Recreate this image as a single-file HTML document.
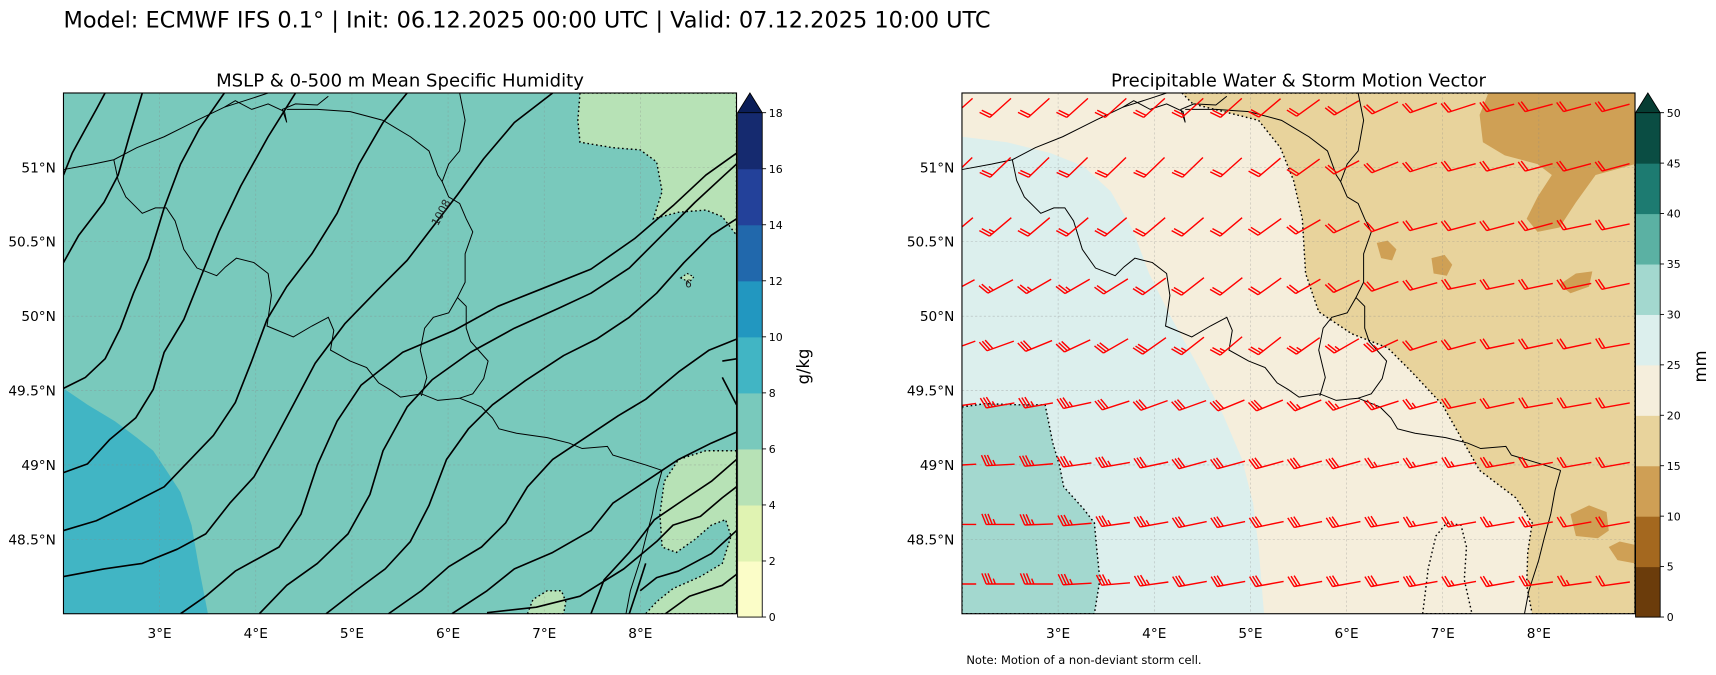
<!DOCTYPE html>
<html><head><meta charset="utf-8"><style>
html,body{margin:0;padding:0;background:#fff;}
svg{display:block;font-family:"DejaVu Sans","Liberation Sans",sans-serif;}
</style></head>
<body>
<svg id="fig" xmlns="http://www.w3.org/2000/svg" width="1716" height="675" viewBox="0 0 1568 617" preserveAspectRatio="none">
<defs>
<clipPath id="clipL"><rect x="58" y="85" width="615" height="476"/></clipPath>
<clipPath id="clipR"><rect x="879" y="85" width="615" height="476"/></clipPath>
</defs>
<text x="58" y="25" font-size="20.5" fill="#000">Model: ECMWF IFS 0.1° | Init: 06.12.2025 00:00 UTC | Valid: 07.12.2025 10:00 UTC</text>
<text x="365.5" y="79" font-size="16.5" text-anchor="middle">MSLP &amp; 0-500 m Mean Specific Humidity</text>
<text x="1186.5" y="79" font-size="16.5" text-anchor="middle">Precipitable Water &amp; Storm Motion Vector</text>

<g id="left-map" clip-path="url(#clipL)">
 <rect x="58" y="85" width="615" height="476" fill="#79c9bc"/>
 <path fill="#41b5c4" d="M58,355 L80,370 L105,385 L125,400 L140,412 L152,430 L165,450 L175,480 L182,520 L190,561 L58,561 Z"/>
 <path fill="#b7e2b6" stroke="#000" stroke-width="1.3" stroke-dasharray="1.5,2.5" d="M530,85 L528,110 L530,130 L560,135 L585,137 L600,148 L605,175 L597,200 L620,194 L645,192 L660,198 L673,215 L673,85 Z"/>
 <path fill="#b7e2b6" stroke="#000" stroke-width="1.3" stroke-dasharray="1.5,2.5" d="M673,412 L645,412 L620,420 L607,440 L603,470 L605,500 L618,505 L635,493 L650,480 L663,475 L668,490 L660,515 L640,527 L615,538 L600,550 L590,561 L673,561 Z"/>
 <path fill="#b7e2b6" stroke="#000" stroke-width="1.3" stroke-dasharray="1.5,2.5" d="M482,561 L487,548 L500,540 L513,540 L517,550 L515,561 Z"/>
 <path fill="#b7e2b6" stroke="#000" stroke-width="1" stroke-dasharray="1.5,2" d="M622,254 L628,250 L634,253 L630,258 Z"/>
</g>

<g id="right-map" clip-path="url(#clipR)">
 <rect x="879" y="85" width="615" height="476" fill="#f5eedc"/>
 <path fill="#dcefed" d="M879,125 L920,130 L960,140 L990,152 L1015,175 L1035,210 L1050,250 L1070,290 L1095,335 L1118,380 L1135,420 L1145,460 L1150,500 L1155,561 L879,561 Z"/>
 <path fill="#a3d8cf" stroke="#000" stroke-width="1.3" stroke-dasharray="1.5,2.5" d="M879,372 L900,369 L930,370 L955,370 L958,385 L962,405 L968,425 L972,445 L990,465 L1000,478 L1002,500 L1005,530 L1000,561 L879,561 Z"/>
 <path fill="#e8d39c" stroke="#000" stroke-width="1.3" stroke-dasharray="1.5,2.5" d="M1080,85 L1090,95 L1110,100 L1150,110 L1170,135 L1182,165 L1190,200 L1193,250 L1205,285 L1235,305 L1268,318 L1290,340 L1318,370 L1335,400 L1352,430 L1385,455 L1400,478 L1396,505 L1395,535 L1400,561 L1494,561 L1494,85 Z"/>
 <path fill="#f5eedc" stroke="#000" stroke-width="1.3" stroke-dasharray="1.5,2.5" d="M1300,561 L1305,520 L1312,490 L1322,478 L1335,480 L1340,500 L1338,530 L1345,561 Z"/>
 <path fill="#cfa055" d="M1360,85 L1352,105 L1355,130 L1375,142 L1405,150 L1418,160 L1405,180 L1395,200 L1405,212 L1425,208 L1440,185 L1458,160 L1494,150 L1494,85 Z"/>
 <path fill="#cfa055" d="M1258,222 L1268,220 L1276,228 L1272,238 L1262,236 Z"/>
 <path fill="#cfa055" d="M1308,236 L1320,233 L1327,242 L1322,252 L1310,250 Z"/>
 <path fill="#cfa055" d="M1425,260 L1440,250 L1455,248 L1452,262 L1435,268 Z"/>
 <path fill="#cfa055" d="M1435,470 L1452,462 L1468,468 L1470,485 L1460,492 L1440,490 Z"/>
 <path fill="#cfa055" d="M1470,500 L1480,495 L1494,498 L1494,515 L1478,512 Z"/>
</g>

<g id="gridlines"></g>
<g id="borders"></g>
<g id="isobars" clip-path="url(#clipL)"></g>
<g id="barbs" clip-path="url(#clipR)"></g>

<rect x="58" y="85" width="615" height="476" fill="none" stroke="#000" stroke-width="1"/>
<rect x="879" y="85" width="615" height="476" fill="none" stroke="#000" stroke-width="1"/>
<g id="axes-labels" font-size="12.5"></g>
<g id="cbars"></g>
<text transform="translate(739,335) rotate(-90)" font-size="15" text-anchor="middle">g/kg</text>
<text transform="translate(1559,335) rotate(-90)" font-size="15" text-anchor="middle">mm</text>
<text x="883" y="607" font-size="10.5">Note: Motion of a non-deviant storm cell.</text>
<text transform="translate(400,207) rotate(-62)" font-size="10" fill="#222">1008</text>
<text x="626" y="263" font-size="9.5" fill="#222">6</text>
</svg>
<script>
const NS="http://www.w3.org/2000/svg";
// axis data
const lonTicks=[3,4,5,6,7,8];
const latTicks=[51,50.5,50,49.5,49,48.5];
const cbLeftTicks=[0,2,4,6,8,10,12,14,16,18];
const cbLeftColors=["#fbfdc8","#e0f3b2","#b7e2b6","#79c9bc","#41b5c4","#2297c0","#2168ac","#23419a","#152a6f"];
const cbLeftExtend="#0b1e58";
const cbRightTicks=[0,5,10,15,20,25,30,35,40,45,50];
const cbRightColors=["#6b3c0b","#a4681f","#cf9f55","#e8d39c","#f5eedc","#dcefed","#a3d8cf","#5bb1a3","#1d7b71","#0a4d43"];
const cbRightExtend="#063d33";
// barb data
const barbLons=[2.0,2.4,2.8,3.2,3.6,4.0,4.4,4.8,5.2,5.6,6.0,6.4,6.8,7.2,7.6,8.0,8.4,8.8];
const barbLats=[51.4,51.0,50.6,50.2,49.8,49.4,49.0,48.6,48.2];
const barbSpeed=[
[20,20,20,20,20,20,20,20,20,20,20,20,20,20,20,20,20,20],
[20,20,20,20,20,20,20,20,20,20,20,20,20,20,20,20,20,20],
[25,25,20,20,20,20,20,20,20,20,20,20,20,20,20,20,20,20],
[25,25,25,25,20,20,20,20,20,20,20,20,20,20,20,20,20,20],
[30,30,30,30,30,30,25,25,25,25,25,25,20,20,20,20,20,20],
[35,35,35,35,30,30,30,30,30,25,25,25,25,20,20,20,20,20],
[35,35,35,35,35,30,30,30,30,30,30,25,25,25,25,20,20,20],
[35,35,35,35,35,35,30,30,30,30,30,30,25,25,25,25,20,20],
[35,35,35,35,35,35,30,30,30,30,30,30,30,25,25,25,25,20]];
const barbAngle=[
[42,42,42,42,42,42,42,42,40,36,30,25,20,18,15,15,15,15],
[44,44,44,44,44,44,44,42,40,36,28,22,18,15,15,15,15,15],
[40,40,40,40,40,40,40,40,36,30,25,20,15,15,15,15,12,12],
[28,28,30,30,32,36,38,38,36,30,25,20,15,12,12,12,12,12],
[20,20,22,25,30,35,38,40,38,35,30,25,18,15,12,12,12,10],
[8,10,10,12,18,20,20,22,22,22,20,18,15,12,12,10,10,10],
[3,3,5,8,10,12,15,15,15,15,15,12,12,10,10,10,10,10],
[0,0,2,5,8,10,12,12,12,12,12,10,10,10,10,10,10,10],
[0,0,0,3,5,8,10,10,10,10,10,10,10,10,10,8,8,8]];

const plots=[{x0:58},{x0:879}];
const PW=615,PT=85,PH=476;
function xLon(x0,lon){return x0+(lon-2)/7*PW;}
function yLat(lat){return PT+(51.5-lat)/3.5*PH;}
function mk(tag,attrs,parent){const e=document.createElementNS(NS,tag);for(const k in attrs)e.setAttribute(k,attrs[k]);parent.appendChild(e);return e;}

const gl=document.getElementById('gridlines'),al=document.getElementById('axes-labels');
plots.forEach((p,pi)=>{
 lonTicks.forEach(l=>{const x=xLon(p.x0,l);
  const ln=mk('line',{x1:x,x2:x,y1:PT,y2:PT+PH,stroke:'#888','stroke-width':0.5,'stroke-opacity':0.5,'stroke-dasharray':'2,2'},gl);
  
  
  const t=mk('text',{x:x,y:PT+PH+22,'text-anchor':'middle'},al);t.textContent=l+'°E';
  
  
 });
 latTicks.forEach(l=>{const y=yLat(l);
  const ln=mk('line',{x1:p.x0,x2:p.x0+PW,y1:y,y2:y,stroke:'#888','stroke-width':0.5,'stroke-opacity':0.5,'stroke-dasharray':'2,2'},gl);
  
  
  const t=mk('text',{x:p.x0-7,y:y+4.5,'text-anchor':'end'},al);t.textContent=l+'°N';
  
  
 });
});

const borderPaths=[
"M58,155 L85,150 L104,146 L125,135 L150,125 L180,110 L205,98 L230,90 L245,85",
"M205,98 L215,92 L230,100 L245,95 L260,102 L262,112 L258,100 L270,95 L290,96 L300,88",
"M104,146 L108,165 L115,180 L130,195 L142,190 L152,190 L160,202 L168,228 L180,245 L198,252 L206,244 L216,236 L232,240 L245,250 L248,270 L244,298 L268,308 L285,298 L300,290 L305,302 L302,320 L320,330 L335,336 L346,350 L356,356 L366,363 L385,360 L400,366 L420,364 L440,372 L450,382 L456,392 L472,396 L500,400 L520,405 L532,410 L555,408 L560,416 L590,425 L605,430",
"M605,430 L600,448 L596,470 L590,492 L585,512 L576,540 L572,561",
"M385,362 L390,345 L384,320 L388,300 L396,290 L410,286 L418,272 L426,280 L426,300 L430,312 L446,330 L442,346 L432,360 L420,364",
"M420,85 L425,110 L420,138 L410,150 L404,166 L410,180 L420,186 L426,200 L432,212 L425,232 L425,258 L418,272",
"M262,100 L290,100 L320,102 L350,110 L375,125 L392,138 L400,160 L404,166"];
const bd=document.getElementById('borders');
const defs=document.querySelector('defs');
mk('rect',{x:58,y:85,width:615,height:476},mk('clipPath',{id:'clipLb'},defs));
mk('rect',{x:58,y:85,width:615,height:476},mk('clipPath',{id:'clipRb'},defs));
plots.forEach((p,pi)=>{
 const g=mk('g',{transform:'translate('+(p.x0-58)+',0)','clip-path':'url(#'+(pi?'clipRb':'clipLb')+')'},bd);
 
 
 borderPaths.forEach(d=>{const e=mk('path',{d:d,fill:'none',stroke:'#000','stroke-width':0.9},g);
  
  });
});
const isobarPaths=[
"M58,160 L66,140 L78,118 L88,100 L96,85",
"M58,240 L72,215 L95,185 L108,160 L118,125 L130,85",
"M58,355 L78,345 L96,328 L110,300 L122,268 L136,236 L150,190 L165,150 L182,118 L205,85",
"M58,432 L80,424 L100,402 L124,382 L140,356 L150,322 L168,292 L184,252 L200,212 L220,170 L245,125 L270,85",
"M58,485 L88,476 L115,463 L150,445 L172,422 L195,398 L215,368 L230,330 L244,292 L262,262 L285,232 L308,195 L328,150 L350,112 L372,85",
"M58,527 L95,520 L130,515 L162,502 L188,488 L210,460 L232,436 L252,400 L268,370 L288,332 L315,296 L345,265 L372,238 L395,208 L418,178 L442,145 L470,112 L505,85",
"M165,561 L188,545 L215,522 L255,500 L275,470 L290,425 L308,385 L330,352 L368,322 L415,302 L455,280 L495,264 L540,246 L580,218 L615,188 L645,160 L673,140",
"M237,561 L262,535 L290,515 L318,488 L338,452 L350,412 L372,372 L395,347 L430,322 L470,300 L510,282 L540,268 L575,245 L605,215 L635,185 L662,160 L673,150",
"M298,561 L325,540 L352,520 L375,495 L392,462 L408,420 L428,392 L450,370 L480,348 L515,325 L545,310 L575,290 L600,268 L625,240 L650,215 L673,200",
"M355,561 L385,540 L410,518 L440,500 L462,478 L482,445 L505,420 L535,400 L565,380 L590,365 L620,340 L648,320 L673,310",
"M413,561 L445,540 L470,520 L505,505 L540,485 L560,460 L590,440 L620,420 L650,405 L673,395",
"M445,560 L490,555 L530,545 L570,520 L600,495 L615,480 L640,472 L660,455 L673,445",
"M540,561 L552,530 L575,505 L598,475 L620,460 L650,440 L673,420",
"M585,540 L600,528 L620,522 L650,506 L673,485",
"M608,561 L630,545 L660,535 L673,525",
"M575,561 L582,540 L590,515",
"M660,330 L673,328 M660,345 L673,370"];
const ib=document.getElementById('isobars');
isobarPaths.forEach(d=>{const e=mk('path',{d:d,fill:'none',stroke:'#000','stroke-width':1.5,'stroke-linejoin':'round'},ib);
 
 });

const cb=document.getElementById('cbars');
function colorbar(x,ticks,colors,ext,name){
 const W=22.5,top=103,bot=564,n=colors.length,step=(bot-top)/n;
 colors.forEach((c,i)=>{const r=mk('rect',{x:x,y:bot-step*(i+1),width:W,height:step+0.5,fill:c},cb);
  
  });
 const tri=mk('path',{d:'M'+x+','+top+' L'+(x+W/2)+',85 L'+(x+W)+','+top+' Z',fill:ext,stroke:'#000','stroke-width':0.8},cb);
 
 
 mk('path',{d:'M'+x+','+top+' L'+x+','+bot+' L'+(x+W)+','+bot+' L'+(x+W)+','+top,fill:'none',stroke:'#000','stroke-width':0.8},cb);
 const vmax=ticks[ticks.length-1];
 ticks.forEach(v=>{const y=bot-(v/vmax)*(bot-top);
  mk('line',{x1:x+W,x2:x+W+3.5,y1:y,y2:y,stroke:'#000','stroke-width':0.8},cb);
  const t=mk('text',{x:x+W+6,y:y+3.8,'font-size':10},cb);t.textContent=v;
  
  });
}
colorbar(674,cbLeftTicks,cbLeftColors,cbLeftExtend,'humidity-colorbar');
colorbar(1494.5,cbRightTicks,cbRightColors,cbRightExtend,'pw-colorbar');

const bg=document.getElementById('barbs');
barbLats.forEach((lat,j)=>{barbLons.forEach((lon,i)=>{
 const cx=xLon(879,lon),cy=yLat(lat),a=barbAngle[j][i]*Math.PI/180,s=barbSpeed[j][i];
 const dx=-Math.cos(a),dy=Math.sin(a),h=13;
 const tx=cx+dx*h,ty=cy+dy*h;
 let d='M'+(cx-dx*h).toFixed(1)+','+(cy-dy*h).toFixed(1)+' L'+tx.toFixed(1)+','+ty.toFixed(1);
 let px=-dy,py=dx; let bx=px+0.4*dx,by=py+0.4*dy; const bl=Math.hypot(bx,by); bx/=bl;by/=bl;
 const full=Math.floor(s/10),half=(s%10)>=5?1:0; const L=10.5,sp=2.8;
 for(let k=0;k<full+half;k++){const ox=tx-dx*sp*k,oy=ty-dy*sp*k,len=k<full?L:L/2;
  d+=' M'+ox.toFixed(1)+','+oy.toFixed(1)+' L'+(ox+bx*len).toFixed(1)+','+(oy+by*len).toFixed(1);}
 const e=mk('path',{d:d,fill:'none',stroke:'#ff0000','stroke-width':1.3},bg);
 
 
});});
</script>
</body></html>
